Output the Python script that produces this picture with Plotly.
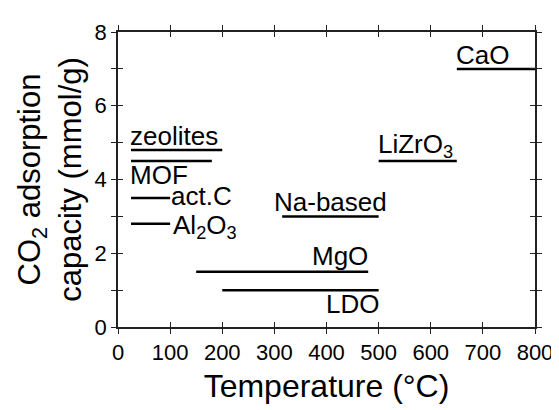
import plotly.graph_objects as go

# ---- data ----
materials = ["CaO", "zeolites", "MOF", "LiZrO<sub>3</sub>", "act.C",
             "Al<sub>2</sub>O<sub>3</sub>", "Na-based", "MgO", "LDO"]
t_start = [650, 25, 25, 500, 25, 25, 315, 150, 200]
t_end = [800, 200, 180, 650, 100, 100, 500, 480, 500]
capacity = [7.0, 4.8, 4.5, 4.5, 3.5, 2.8, 3.0, 1.5, 1.0]
# label placement relative to each line
label_side = ["above-left", "above-left", "below-left", "above-left", "right-up",
              "right-down", "above-center", "above-right", "below-right"]

x_ticks = [0, 100, 200, 300, 400, 500, 600, 700, 800]
y_ticks = [0, 2, 4, 6, 8]

FONT = "Liberation Sans, Arial, sans-serif"

fig = go.Figure()
for name, x0, x1, y in zip(materials, t_start, t_end, capacity):
    fig.add_trace(go.Scatter(x=[x0, x1], y=[y, y], mode="lines",
                             line=dict(color="black", width=2.5),
                             name=name, showlegend=False, hoverinfo="skip"))
# dummy trace for overlay axes (inside ticks)
fig.add_trace(go.Scatter(x=[None], y=[None], xaxis="x2", yaxis="y2",
                         showlegend=False, hoverinfo="skip"))

for name, x0, x1, y, side in zip(materials, t_start, t_end, capacity, label_side):
    a = dict(text=name, showarrow=False, font=dict(family=FONT, size=26, color="black"),
             xref="x", yref="y", y=y)
    if side == "above-left":
        a.update(x=x0, xanchor="left", yanchor="bottom", xshift=-3, yshift=-3)
    elif side == "below-left":
        a.update(x=x0, xanchor="left", yanchor="top", xshift=-3, yshift=3)
    elif side == "right-up":
        a.update(x=x1, xanchor="left", yanchor="middle", xshift=-1, yshift=2)
    elif side == "right-down":
        a.update(x=x1, xanchor="left", yanchor="middle", xshift=1, yshift=-3)
    elif side == "above-center":
        a.update(x=(x0 + x1) / 2, xanchor="center", yanchor="bottom", yshift=-3)
    elif side == "above-right":
        a.update(x=x1, xanchor="right", yanchor="bottom", xshift=2, yshift=-1)
    elif side == "below-right":
        a.update(x=x1, xanchor="right", yanchor="top", xshift=2, yshift=3)
    fig.add_annotation(**a)

axis_common = dict(showgrid=False, zeroline=False, showline=True,
                   linecolor="#222", linewidth=1.5, mirror="ticks",
                   tickcolor="#222", tickwidth=1.2, ticklen=5)

fig.update_layout(
    width=559, height=410,
    margin=dict(l=110, r=32, t=16, b=91),
    paper_bgcolor="white", plot_bgcolor="white",
    font=dict(family=FONT, color="black"),
    xaxis=dict(range=[0, 800], tickvals=x_ticks, ticks="outside",
               tickfont=dict(size=22),
               title=dict(text="Temperature (°C)", font=dict(size=32), standoff=10),
               **axis_common),
    yaxis=dict(range=[0, 8], tickvals=y_ticks, ticks="outside",
               tickfont=dict(size=22),
               minor=dict(dtick=1, ticks="outside", ticklen=5, tickcolor="#222", tickwidth=1.2),
               title=dict(text="CO<sub>2</sub> adsorption<br>capacity (mmol/g)",
                          font=dict(size=31), standoff=4),
               **axis_common),
    xaxis2=dict(range=[0, 800], overlaying="x", tickvals=x_ticks, ticks="inside",
                showticklabels=False, anchor="y2", **axis_common),
    yaxis2=dict(range=[0, 8], overlaying="y", tickvals=list(range(0, 9)), ticks="inside",
                showticklabels=False, anchor="x2", **axis_common),
)

fig.write_html("out.html")
